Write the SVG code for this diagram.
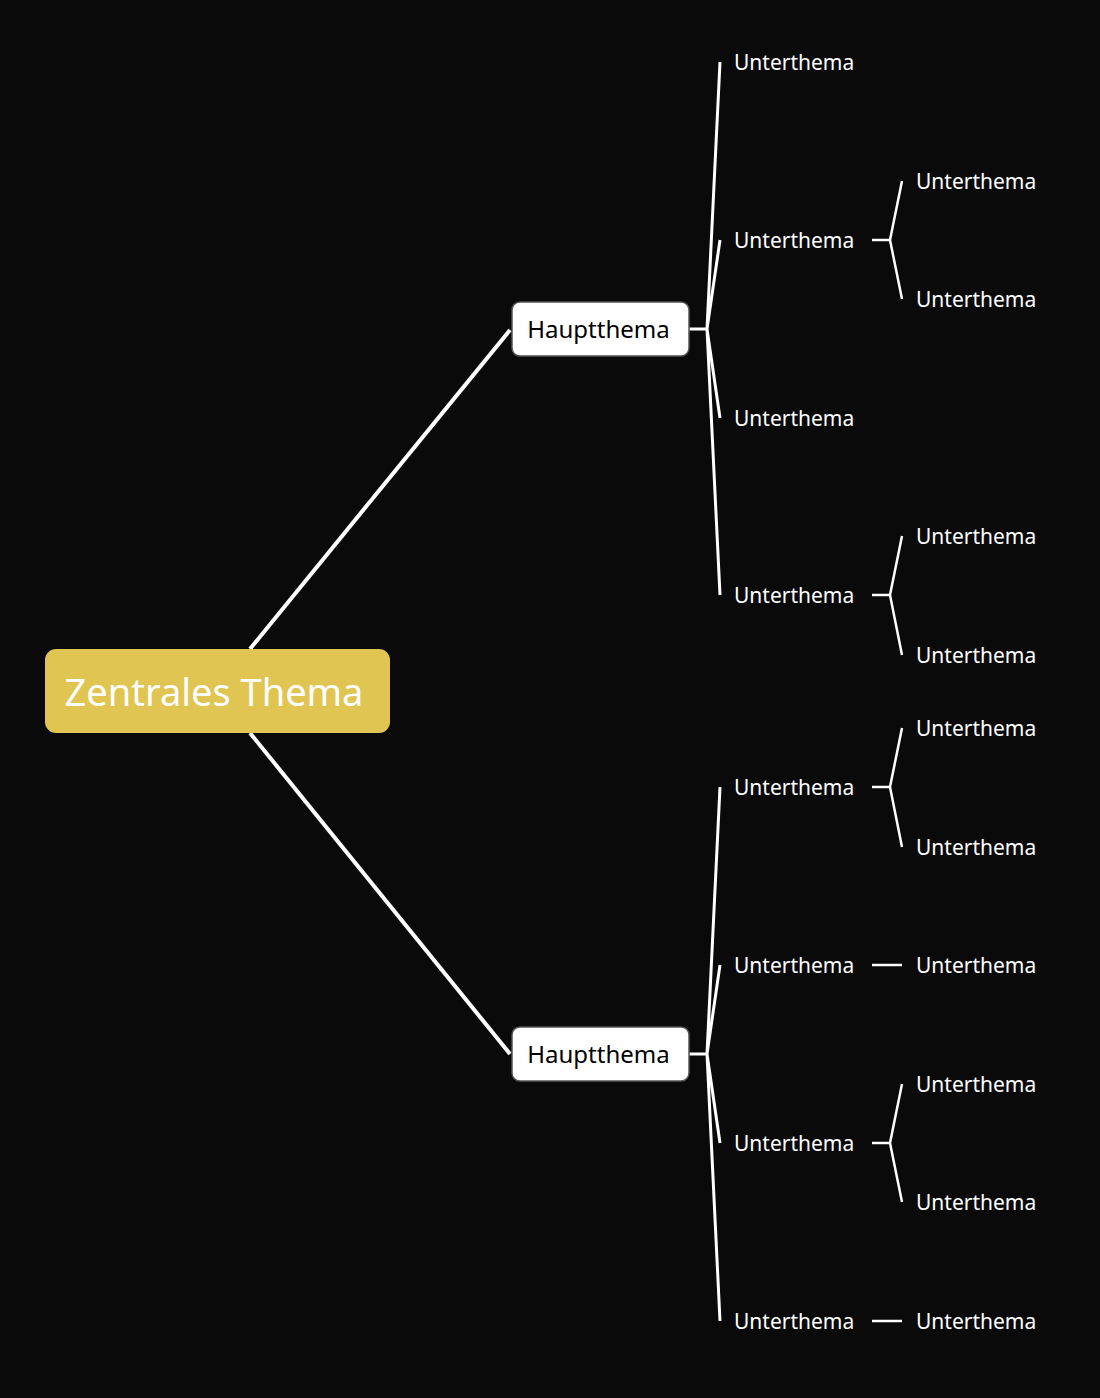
<svg xmlns="http://www.w3.org/2000/svg" width="1100" height="1398" viewBox="0 0 1100 1398">
<style>
.bg{fill:#0a0a0a}
.ln{stroke:#ffffff;fill:none;stroke-linecap:butt}
.l1{stroke-width:4}
.l2{stroke-width:3}
.l3{stroke-width:2.5}
.sub{font-family:"Noto Sans","Open Sans",sans-serif;font-size:21px;fill:#ffffff}
.main{font-family:"Noto Sans","Open Sans",sans-serif;font-size:24px;fill:#000000}
.ctr{font-family:"Noto Sans","Open Sans",sans-serif;font-size:38px;fill:#ffffff}
.mbox{fill:#ffffff;stroke:#555555;stroke-width:1.5}
</style>
<rect class="bg" x="0" y="0" width="1100" height="1398"/>
<g id="connectors">
  <path class="ln l1" d="M250,649 L510,330"/>
  <path class="ln l1" d="M250,733 L510,1054"/>
  <path class="ln l2" d="M689,329 L707,329 M707,329 L720,62 M707,329 L720,240 M707,329 L720,418 M707,329 L720,595"/>
  <path class="ln l2" d="M689,1054 L707,1054 M707,1054 L720,787 M707,1054 L720,965 M707,1054 L720,1143 M707,1054 L720,1321"/>
  <path class="ln l3" d="M872,240 L890,240 M890,240 L902,181 M890,240 L902,299"/>
  <path class="ln l3" d="M872,595 L890,595 M890,595 L902,536 M890,595 L902,655"/>
  <path class="ln l3" d="M872,787 L890,787 M890,787 L902,728 M890,787 L902,847"/>
  <path class="ln l3" d="M872,965 L902,965"/>
  <path class="ln l3" d="M872,1143 L890,1143 M890,1143 L902,1084 M890,1143 L902,1202"/>
  <path class="ln l3" d="M872,1321 L902,1321"/>
</g>
<g id="center">
  <rect x="45" y="649" width="345" height="84" rx="11" fill="#e0c552"/>
  <text class="ctr" x="214" y="706" text-anchor="middle">Zentrales Thema</text>
</g>
<g id="main1">
  <rect class="mbox" x="512" y="302" width="177" height="54" rx="8"/>
  <text class="main" x="598.5" y="338" text-anchor="middle">Hauptthema</text>
</g>
<g id="main2">
  <rect class="mbox" x="512" y="1027" width="177" height="54" rx="8"/>
  <text class="main" x="598.5" y="1063" text-anchor="middle">Hauptthema</text>
</g>
<g id="s1"><text class="sub" x="734" y="70">Unterthema</text></g>
<g id="s2"><text class="sub" x="734" y="248">Unterthema</text></g>
<g id="s2a"><text class="sub" x="916" y="189">Unterthema</text></g>
<g id="s2b"><text class="sub" x="916" y="307">Unterthema</text></g>
<g id="s3"><text class="sub" x="734" y="426">Unterthema</text></g>
<g id="s4"><text class="sub" x="734" y="603">Unterthema</text></g>
<g id="s4a"><text class="sub" x="916" y="544">Unterthema</text></g>
<g id="s4b"><text class="sub" x="916" y="663">Unterthema</text></g>
<g id="s5"><text class="sub" x="734" y="795">Unterthema</text></g>
<g id="s5a"><text class="sub" x="916" y="736">Unterthema</text></g>
<g id="s5b"><text class="sub" x="916" y="855">Unterthema</text></g>
<g id="s6"><text class="sub" x="734" y="973">Unterthema</text></g>
<g id="s6a"><text class="sub" x="916" y="973">Unterthema</text></g>
<g id="s7"><text class="sub" x="734" y="1151">Unterthema</text></g>
<g id="s7a"><text class="sub" x="916" y="1092">Unterthema</text></g>
<g id="s7b"><text class="sub" x="916" y="1210">Unterthema</text></g>
<g id="s8"><text class="sub" x="734" y="1329">Unterthema</text></g>
<g id="s8a"><text class="sub" x="916" y="1329">Unterthema</text></g>
</svg>
